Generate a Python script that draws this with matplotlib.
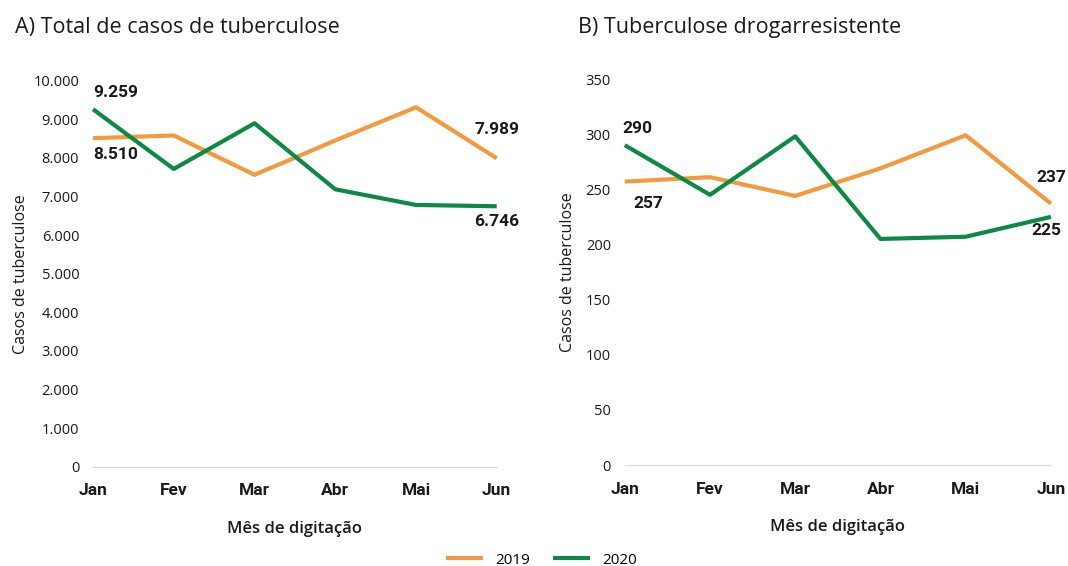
import matplotlib.pyplot as plt
from matplotlib.ticker import FuncFormatter

meses = ["Jan", "Fev", "Mar", "Abr", "Mai", "Jun"]

total2019 = [8510, 8580, 7560, 8450, 9310, 7989]
total2020 = [9259, 7712, 8896, 7186, 6780, 6746]

dr2019 = [257, 261, 244, 269, 299, 237]
dr2020 = [290, 245, 298, 205, 207, 225]

laranja = "#F39A3E"
verde = "#0B8A43"
txt = "#1a1a1a"

plt.rcParams['font.family'] = ['Open Sans', 'DejaVu Sans']
narrow = ['Roboto', 'DejaVu Sans']

def milhar(v, pos):
    return f"{int(v):,}".replace(",", ".")

fig = plt.figure(figsize=(10.68, 5.66), dpi=100)
axA = fig.add_axes([0.0871, 0.1755, 0.378, 0.682])
axB = fig.add_axes([0.585, 0.1784, 0.399, 0.682])

def desenha(ax, s19, s20, ymax, passo, ylab_x):
    x = range(len(meses))
    ax.plot(x, s19, color=laranja, lw=3, clip_on=False, solid_capstyle='butt')
    ax.plot(x, s20, color=verde, lw=3, clip_on=False, solid_capstyle='butt')
    ax.set_xlim(0, len(meses) - 1)
    ax.set_ylim(0, ymax)
    ax.set_yticks(range(0, ymax + 1, passo))
    ax.yaxis.set_major_formatter(FuncFormatter(milhar))
    ax.set_xticks(list(x))
    ax.set_xticklabels(meses, family=narrow, fontweight='bold', fontsize=12.5, color=txt)
    for s in ["top", "right", "left"]:
        ax.spines[s].set_visible(False)
    ax.spines["bottom"].set_color("#d9d9d9")
    ax.tick_params(axis='both', length=0)
    ax.tick_params(axis='y', labelsize=10.5, labelcolor=txt, pad=10)
    ax.tick_params(axis='x', pad=12)
    ax.set_ylabel("Casos de tuberculose", fontsize=11.5, color=txt)
    ax.yaxis.set_label_coords(ylab_x, 0.5)
    ax.set_xlabel("Mês de digitação", fontsize=12, color=txt, fontweight='semibold', labelpad=16)

def rotulo(ax, xi, yv, dx, dy, ha="left"):
    ax.annotate(milhar(yv, None), (xi, yv), xytext=(dx, dy), textcoords="offset points",
                ha=ha, va="center", family=narrow, fontweight='bold', fontsize=12.5, color=txt,
                annotation_clip=False)

desenha(axA, total2019, total2020, 10000, 1000, -0.158)
desenha(axB, dr2019, dr2020, 350, 50, -0.114)

rotulo(axA, 0, total2020[0], 0, 12)
rotulo(axA, 0, total2019[0], 0, -12)
rotulo(axA, 5, total2019[5], 0, 21, ha="center")
rotulo(axA, 5, total2020[5], 0, -11, ha="center")

rotulo(axB, 0, dr2020[0], -2, 12)
rotulo(axB, 0, dr2019[0], 6, -16)
rotulo(axB, 5, dr2019[5], 0, 19, ha="center")
rotulo(axB, 5, dr2020[5], -3, -10, ha="center")

fig.text(0.014, 0.952, "A) Total de casos de tuberculose", fontsize=15.5, color=txt, va="center")
fig.text(0.541, 0.952, "B) Tuberculose drogarresistente", fontsize=15.5, color=txt, va="center")

fig.legend([axA.lines[0], axA.lines[1]], ["2019", "2020"], loc="center",
           bbox_to_anchor=(0.507, 0.01), ncol=2, frameon=False, fontsize=11,
           handlelength=2.4, columnspacing=1.5, borderaxespad=0)

fig.savefig("out.png", dpi=100)
